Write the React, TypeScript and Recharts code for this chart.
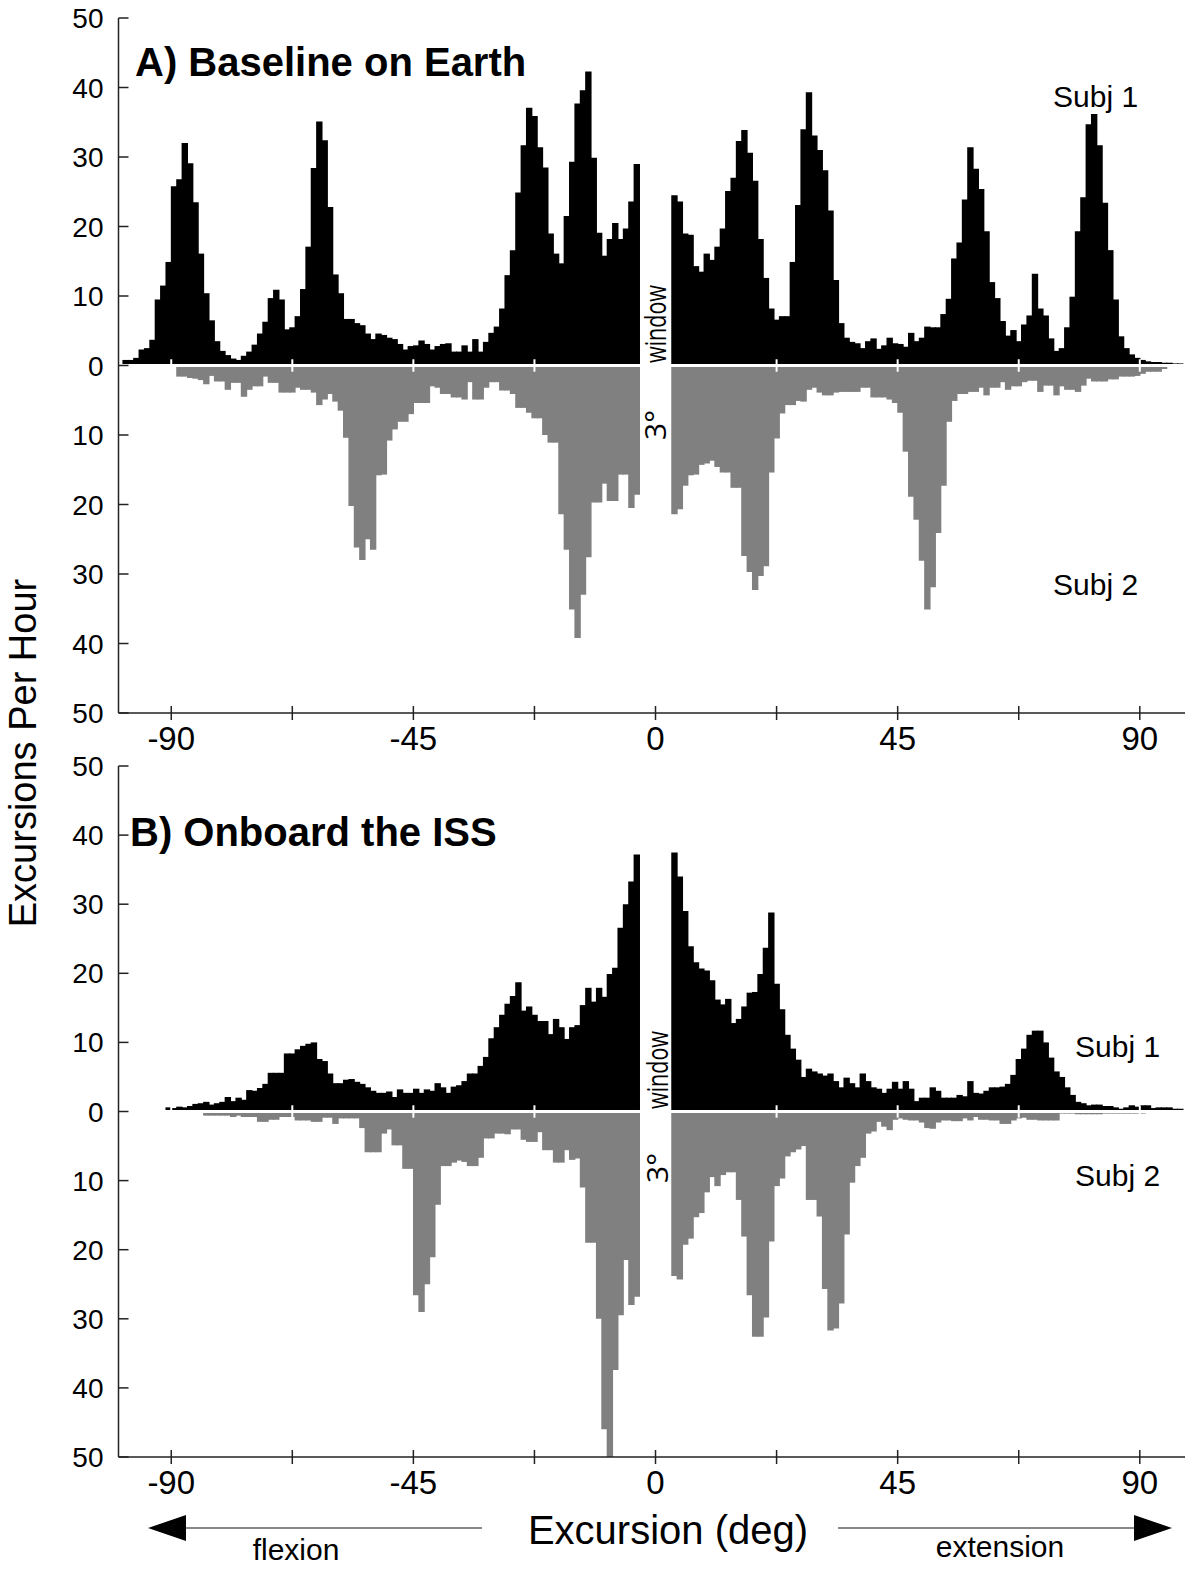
import React from "react";
import { BarChart, Bar, XAxis, YAxis, ReferenceLine, Rectangle } from "recharts";

// 1-degree bins, first bin starts at -99 deg; bins -3..2 are the excluded 3 deg window
const BIN_START = -99;

// A) Baseline on Earth
const earthSubj1 = [
  0.8, 0.8, 1.1, 2.3, 2.5, 3.7, 9.5, 11.5, 14.9, 25.8,
  26.8, 32.0, 29.1, 23.5, 16.1, 10.4, 6.5, 3.5, 2.1, 1.5,
  1.0, 0.8, 1.4, 2.0, 3.0, 4.6, 6.3, 9.7, 10.9, 9.5,
  5.2, 5.5, 7.1, 11.0, 17.1, 28.4, 35.1, 32.4, 22.8, 13.1,
  10.4, 6.7, 6.7, 6.1, 5.8, 4.6, 3.8, 4.6, 4.4, 4.0,
  3.8, 3.1, 2.3, 2.8, 2.9, 3.6, 3.1, 2.3, 2.8, 3.1,
  3.2, 2.0, 2.0, 2.9, 2.0, 3.8, 2.0, 3.4, 4.7, 5.6,
  8.2, 13.0, 16.6, 24.9, 31.7, 37.1, 35.9, 31.4, 28.5, 19.0,
  16.1, 14.7, 21.5, 29.3, 37.7, 39.6, 42.3, 29.9, 19.1, 15.8,
  18.2, 20.5, 18.2, 19.7, 23.6, 29.0, 0, 0, 0, 0,
  0, 0, 24.5, 23.6, 19.0, 18.8, 14.3, 13.5, 16.1, 15.2,
  17.1, 19.7, 25.1, 27.0, 32.3, 33.9, 30.6, 26.6, 18.2, 12.6,
  8.2, 6.6, 7.1, 7.1, 14.9, 23.1, 34.0, 39.3, 33.1, 31.0,
  28.1, 22.3, 12.3, 6.1, 4.0, 3.4, 3.2, 2.5, 3.5, 3.9,
  2.4, 2.9, 4.0, 3.2, 3.1, 2.7, 4.7, 3.5, 4.0, 5.6,
  5.5, 5.5, 7.4, 9.6, 15.4, 17.7, 23.9, 31.4, 28.3, 25.4,
  19.3, 12.0, 9.7, 6.4, 4.3, 5.1, 3.5, 5.9, 7.2, 13.2,
  8.2, 7.2, 3.9, 2.1, 2.5, 5.5, 9.9, 19.3, 24.2, 34.7,
  36.2, 31.7, 23.4, 16.6, 9.5, 4.2, 2.5, 1.6, 1.1, 0.8,
  0.6, 0.5, 0.5, 0.4, 0.4, 0.3, 0.3,
];

const earthSubj2 = [
  0, 0, 0, 0, 0, 0, 0, 0, 0, 0,
  1.6, 1.6, 1.8, 1.9, 2.1, 2.7, 1.5, 2.3, 2.3, 3.5,
  2.5, 2.5, 4.5, 3.5, 3.0, 3.0, 1.6, 2.5, 2.5, 3.9,
  3.9, 3.9, 3.2, 3.5, 3.5, 3.9, 5.7, 4.9, 4.1, 5.2,
  6.5, 10.4, 20.2, 26.2, 28.0, 25.0, 26.5, 15.8, 15.7, 10.8,
  9.2, 8.1, 8.1, 7.0, 5.4, 5.4, 5.4, 3.0, 3.2, 4.1,
  4.1, 4.6, 4.6, 4.9, 2.4, 4.9, 4.9, 3.2, 2.4, 2.4,
  3.6, 3.6, 4.1, 6.1, 6.1, 6.8, 7.6, 7.6, 10.0, 11.1,
  11.1, 21.4, 26.5, 35.1, 39.2, 33.0, 27.6, 19.7, 19.7, 17.0,
  19.5, 19.5, 15.7, 15.7, 20.5, 18.6, 0, 0, 0, 0,
  0, 0, 21.4, 20.7, 17.3, 15.8, 15.7, 14.3, 14.1, 13.7,
  14.6, 15.4, 15.4, 17.6, 17.6, 27.4, 29.7, 32.3, 30.3, 28.9,
  15.4, 10.5, 6.9, 5.7, 5.7, 5.1, 5.2, 3.5, 3.2, 3.9,
  4.3, 4.3, 3.9, 3.8, 3.8, 3.8, 3.8, 3.2, 3.2, 4.6,
  4.6, 4.6, 4.9, 5.4, 6.8, 12.4, 18.9, 22.2, 28.1, 35.1,
  31.9, 24.1, 17.3, 8.1, 5.1, 4.1, 4.1, 3.8, 3.8, 3.2,
  4.3, 3.2, 3.2, 2.4, 3.5, 3.0, 3.0, 2.4, 2.2, 2.2,
  3.8, 2.9, 2.9, 4.3, 3.0, 3.5, 3.5, 3.8, 2.9, 1.9,
  2.3, 2.3, 2.3, 2.0, 2.0, 1.6, 1.6, 1.6, 1.5, 1.2,
  0.9, 0.9, 0.9, 0.5, 0, 0, 0,
];

// B) Onboard the ISS
const issSubj1 = [
  0, 0, 0, 0, 0, 0, 0, 0, 0.6, 0.5,
  0.7, 0.6, 0.8, 1.1, 1.2, 1.4, 1.0, 1.2, 1.4, 2.1,
  1.5, 2.0, 1.7, 3.1, 3.0, 3.4, 4.0, 5.6, 5.6, 5.6,
  8.4, 8.4, 9.0, 9.5, 9.8, 10.0, 7.6, 7.3, 5.5, 4.1,
  4.1, 4.6, 4.7, 4.3, 4.0, 3.5, 3.0, 2.7, 2.7, 2.9,
  2.1, 3.2, 2.7, 2.7, 3.3, 2.7, 3.2, 3.0, 4.1, 3.5,
  2.7, 3.6, 3.8, 4.4, 5.5, 5.5, 6.6, 7.9, 10.6, 12.2,
  14.0, 15.6, 16.7, 18.7, 14.6, 15.2, 14.0, 13.1, 13.1, 11.2,
  13.4, 12.2, 10.5, 12.2, 12.5, 15.4, 17.9, 15.9, 17.9, 16.6,
  19.9, 20.8, 26.6, 30.0, 33.3, 37.2, 0, 0, 0, 0,
  0, 0, 37.5, 34.0, 29.0, 23.9, 21.6, 20.7, 20.4, 19.0,
  16.2, 15.5, 16.3, 12.8, 13.4, 15.2, 17.2, 17.3, 19.9, 23.7,
  28.8, 18.5, 14.8, 11.1, 9.1, 7.5, 5.0, 6.2, 5.8, 5.5,
  5.2, 5.5, 4.4, 3.5, 4.9, 4.1, 3.5, 5.5, 4.4, 3.5,
  3.3, 2.7, 3.3, 4.3, 3.3, 4.4, 3.3, 1.5, 2.0, 2.0,
  3.5, 3.0, 2.0, 2.0, 2.0, 2.4, 2.2, 4.4, 2.7, 2.6,
  3.0, 3.5, 3.5, 3.6, 4.0, 5.3, 7.6, 9.1, 11.1, 11.7,
  11.7, 10.0, 7.8, 5.8, 5.0, 3.5, 2.4, 1.4, 1.2, 0.9,
  1.0, 1.0, 0.8, 0.8, 0.6, 0.4, 0.6, 0.9, 0.7, 0.9,
  0.9, 0.5, 0.6, 0.6, 0.6, 0.4, 0.4,
];

const issSubj2 = [
  0, 0, 0, 0, 0, 0, 0, 0, 0, 0,
  0, 0, 0, 0, 0, 0.6, 0.6, 0.6, 0.6, 0.6,
  0.8, 0.6, 0.8, 0.8, 0.8, 1.5, 1.5, 1.2, 1.2, 0.8,
  0.8, 0.8, 1.3, 1.3, 1.3, 1.5, 1.5, 0.9, 0.9, 1.8,
  1.0, 1.0, 1.0, 1.0, 2.4, 5.9, 5.9, 5.9, 3.2, 2.6,
  4.9, 4.9, 8.3, 8.3, 26.6, 29.0, 25.0, 21.1, 13.5, 7.9,
  7.9, 7.4, 7.1, 7.3, 7.9, 7.9, 6.7, 3.9, 3.9, 3.2,
  3.2, 3.3, 2.6, 2.6, 4.1, 4.4, 4.4, 3.0, 5.6, 5.6,
  7.4, 7.4, 5.6, 7.0, 6.8, 11.0, 19.0, 19.0, 30.0, 46.0,
  51.0, 37.4, 29.5, 21.5, 28.0, 26.8, 0, 0, 0, 0,
  0, 0, 23.8, 24.3, 19.3, 18.4, 15.3, 14.7, 11.7, 9.5,
  10.8, 9.2, 8.8, 8.8, 12.8, 18.1, 26.6, 32.6, 32.6, 29.8,
  18.8, 10.8, 9.7, 6.5, 5.9, 5.5, 5.0, 12.8, 12.8, 15.2,
  25.7, 31.7, 31.4, 27.8, 17.8, 10.3, 7.9, 6.7, 3.2, 2.9,
  1.5, 2.2, 2.7, 1.2, 1.0, 1.2, 1.3, 1.3, 1.6, 2.4,
  2.5, 1.6, 1.3, 1.3, 1.4, 1.4, 1.0, 1.3, 0.8, 1.2,
  1.2, 1.3, 1.3, 1.8, 1.8, 1.3, 1.0, 0.9, 1.2, 1.2,
  1.3, 1.3, 1.3, 1.3, 0.3, 0.3, 0.3, 0.4, 0.4, 0.4,
  0.4, 0.4, 0.3, 0.3, 0.3, 0.3, 0.3, 0.3, 0.3, 0.3,
  0.2, 0.2, 0.2, 0.2, 0, 0, 0,
];

const xTicks = [-90, -67.5, -45, -22.5, 0, 22.5, 45, 67.5, 90];
const yTicks = [-50, -40, -30, -20, -10, 0, 10, 20, 30, 40, 50];
const xDomain: [number, number] = [-99.8, 98.4];

const FONT = "'Liberation Sans', Arial, Helvetica, sans-serif";
const AXIS = "#222";

function buildRows(top: number[], bottom: number[]) {
  // subj 2 is drawn below the zero line, so it goes in as negative
  return top.map((v, i) => ({
    x: BIN_START + i + 0.5,
    subj1: v,
    subj2: -bottom[i],
  }));
}

// bar widths get truncated to whole pixels, so overlap neighbours a bit to hide seams
const WideBar = (p: any) => (
  <Rectangle x={p.x - 0.4} y={p.y} width={p.width + 1.4} height={p.height} fill={p.fill} />
);

const XTick = (p: any) => {
  const v = p.payload.value;
  return (
    <g>
      <line x1={p.x} x2={p.x} y1={p.y - 7} y2={p.y + 7} stroke={AXIS} strokeWidth={1.5} />
      {v % 45 === 0 && (
        <text x={p.x} y={p.y + 37} textAnchor="middle" fontSize={33} fill="#000" fontFamily={FONT}>
          {v}
        </text>
      )}
    </g>
  );
};

const YTick = (p: any) => (
  <g>
    <line x1={p.x} x2={p.x + 10} y1={p.y} y2={p.y} stroke={AXIS} strokeWidth={1.5} />
    <text x={p.x - 15} y={p.y} dy="0.36em" textAnchor="end" fontSize={28} fill="#000" fontFamily={FONT}>
      {Math.abs(p.payload.value)}
    </text>
  </g>
);

interface PanelProps {
  data: { x: number; subj1: number; subj2: number }[];
  height: number;
  top: number;
  xAxisHeight: number;
}

function Panel({ data, height, top, xAxisHeight }: PanelProps) {
  return (
    <BarChart
      width={1200}
      height={height}
      data={data}
      stackOffset="sign"
      barCategoryGap={0}
      barGap={0}
      margin={{ top, right: 15, bottom: 0, left: 0 }}
    >
      <XAxis
        type="number"
        dataKey="x"
        domain={xDomain}
        ticks={xTicks}
        interval={0}
        height={xAxisHeight}
        tickSize={0}
        tickMargin={0}
        tick={(p: any) => <XTick {...p} />}
        stroke={AXIS}
        strokeWidth={1.5}
      />
      <YAxis
        type="number"
        domain={[-50, 50]}
        ticks={yTicks}
        interval={0}
        allowDataOverflow
        width={118.5}
        tickSize={0}
        tickMargin={0}
        tick={(p: any) => <YTick {...p} />}
        stroke={AXIS}
        strokeWidth={1.5}
      />
      <Bar dataKey="subj1" stackId="s" fill="#000" shape={WideBar} isAnimationActive={false} />
      <Bar dataKey="subj2" stackId="s" fill="#808080" shape={WideBar} isAnimationActive={false} />
      <ReferenceLine y={0} stroke="#fff" strokeWidth={3} />
      {xTicks
        .filter((t) => t !== 0)
        .map((t) => (
          <ReferenceLine
            key={t}
            segment={[
              { x: t, y: -0.9 },
              { x: t, y: 0.9 },
            ]}
            stroke="#fff"
            strokeWidth={2}
          />
        ))}
    </BarChart>
  );
}

export default function App() {
  const earth = buildRows(earthSubj1, earthSubj2);
  const iss = buildRows(issSubj1, issSubj2);

  return (
    <div
      style={{
        position: "absolute",
        left: 0,
        top: 0,
        width: 1200,
        height: 1571,
        background: "#fff",
        fontFamily: FONT,
      }}
    >
      <div style={{ position: "absolute", left: 0, top: 0 }}>
        <Panel data={earth} height={760} top={18} xAxisHeight={47} />
      </div>
      <div style={{ position: "absolute", left: 0, top: 740 }}>
        <Panel data={iss} height={767} top={26} xAxisHeight={50} />
      </div>

      <svg
        width={1200}
        height={1571}
        style={{ position: "absolute", left: 0, top: 0, pointerEvents: "none" }}
        fontFamily={FONT}
      >
        {/* panel titles and subject labels */}
        <text x={135} y={76} fontSize={40} fontWeight="bold" fill="#000">
          A) Baseline on Earth
        </text>
        <text x={130} y={846} fontSize={40} fontWeight="bold" fill="#000">
          B) Onboard the ISS
        </text>
        <text x={1053} y={107} fontSize={30} fill="#000">Subj 1</text>
        <text x={1053} y={595} fontSize={30} fill="#000">Subj 2</text>
        <text x={1075} y={1057} fontSize={30} fill="#000">Subj 1</text>
        <text x={1075} y={1186} fontSize={30} fill="#000">Subj 2</text>

        {/* 3 deg window notes */}
        <g fontFamily="'Open Sans', 'Noto Sans', sans-serif" fontSize={30} fill="#000">
          <text x={666} y={324} textAnchor="middle" textLength={78} lengthAdjust="spacingAndGlyphs" transform="rotate(-90 666 324)">window</text>
          <text x={666} y={425} textAnchor="middle" transform="rotate(-90 666 425)">3°</text>
          <text x={668} y={1070} textAnchor="middle" textLength={78} lengthAdjust="spacingAndGlyphs" transform="rotate(-90 668 1070)">window</text>
          <text x={668} y={1168} textAnchor="middle" transform="rotate(-90 668 1168)">3°</text>
        </g>

        {/* axis titles */}
        <text x={36} y={753} fontSize={38} textAnchor="middle" transform="rotate(-90 36 753)" fill="#000">
          Excursions Per Hour
        </text>
        <text x={668} y={1544} fontSize={40} textAnchor="middle" fill="#000">
          Excursion (deg)
        </text>

        {/* direction arrows */}
        <line x1={184} y1={1528} x2={482} y2={1528} stroke="#888" strokeWidth={2} />
        <polygon points="148,1528 186,1515 186,1541" fill="#000" />
        <line x1={838} y1={1528} x2={1136} y2={1528} stroke="#888" strokeWidth={2} />
        <polygon points="1172,1528 1134,1515 1134,1541" fill="#000" />
        <text x={296} y={1560} fontSize={30} textAnchor="middle" fill="#000">flexion</text>
        <text x={1000} y={1557} fontSize={30} textAnchor="middle" fill="#000">extension</text>
      </svg>
    </div>
  );
}
